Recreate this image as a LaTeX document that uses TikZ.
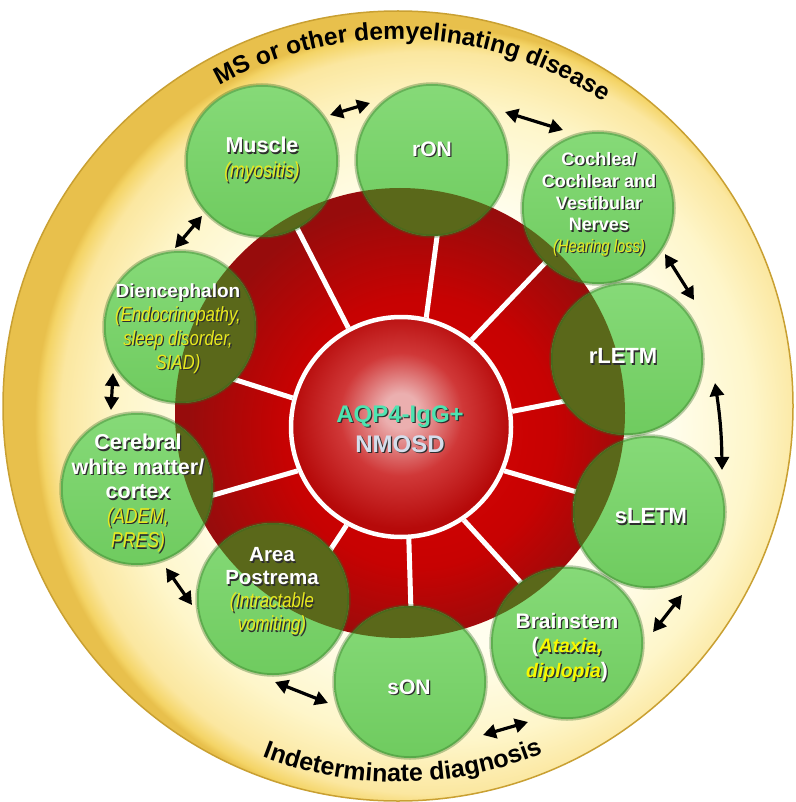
\documentclass[tikz,border=0pt]{standalone}
\usepackage{fontspec}
\setmainfont{Liberation Sans}
\newfontfamily\narrowit{Liberation Sans}[FakeStretch=0.82]
\usetikzlibrary{arrows.meta,decorations.text}

\definecolor{yc1}{HTML}{FFFEEE}
\definecolor{yc2}{HTML}{FEF6CA}
\definecolor{yc3}{HTML}{FBE7A0}
\definecolor{yc4}{HTML}{F4D466}
\definecolor{yc5}{HTML}{E8C04C}
\definecolor{rimc}{HTML}{C9A032}
\definecolor{rc1}{HTML}{D80404}
\definecolor{rc2}{HTML}{C70202}
\definecolor{rc3}{HTML}{970C0C}
\definecolor{ic1}{HTML}{EBAFAF}
\definecolor{ic2}{HTML}{D03838}
\definecolor{ic3}{HTML}{B60A0A}
\definecolor{gtop}{HTML}{86DA78}
\definecolor{gbot}{HTML}{6FCB5F}
\definecolor{gring}{HTML}{2F6B20}
\definecolor{olivec}{HTML}{5A681A}
\definecolor{shadowc}{HTML}{2E2E2E}
\definecolor{yit}{HTML}{E8E820}
\definecolor{ybr}{HTML}{F8F800}
\definecolor{aqua}{HTML}{4DE3B0}
\definecolor{nmc}{HTML}{D5DDEB}

\pgfdeclareradialshading{ybg}{\pgfpoint{4bp}{-2bp}}{color(0bp)=(yc1); color(14bp)=(yc1); color(20bp)=(yc2); color(23.5bp)=(yc3); color(24.6bp)=(yc4); color(25bp)=(yc5); color(50bp)=(yc5)}
\pgfdeclareradialshading{redball}{\pgfpoint{3bp}{-3bp}}{color(0bp)=(rc1); color(15bp)=(rc2); color(25bp)=(rc3); color(50bp)=(rc3)}
\pgfdeclareradialshading{innerball}{\pgfpoint{0bp}{4bp}}{color(0bp)=(ic1); color(4bp)=(ic1); color(14bp)=(ic2); color(25bp)=(ic3); color(50bp)=(ic3)}

\newcommand\shtxt[2]{\makebox[0pt][l]{\kern1.3pt\raisebox{-1.3pt}{\textcolor{shadowc}{#2}}}\textcolor{#1}{#2}}
\newcommand\yi[1]{{\narrowit\mdseries\itshape #1}}

\begin{document}
\begin{tikzpicture}[x=1pt,y=1pt,
  gcirc/.style={circle, minimum size=152pt, inner sep=0pt, top color=gtop, bottom color=gbot,
    draw=gring, draw opacity=0.35, line width=3.5pt,
    path picture={\fill[olivec] (red.center) circle[radius=225pt];}},
  lbl/.style={align=center, text=white, inner sep=0pt},
  arr/.style={{Triangle[length=13pt,width=14pt]}-{Triangle[length=13pt,width=14pt]}, line width=3.2pt, black},
  spoke/.style={white, line width=5pt},
]
\useasboundingbox (0,0) rectangle (795,-802);
\fill[white] (0,0) rectangle (795,-802);

% outer yellow disk
\node[circle, minimum size=790pt, inner sep=0pt, shade, shading=ybg, draw=rimc, line width=1.5pt] (yel) at (398,-406) {};

% arc texts
\path[decorate, decoration={text along path, text align=center,
  text={|\bfseries\fontsize{24.5}{24.5}\selectfont|MS or other demyelinating disease}}]
  ([shift={(127.5:367)}]yel.center) arc[start angle=127.5, end angle=47.5, radius=367];
\path[decorate, decoration={text along path, text align=center,
  text={|\bfseries\fontsize{25}{25}\selectfont|Indeterminate diagnosis}}]
  ([shift={(235.75:376)}]yel.center) arc[start angle=235.75, end angle=305.75, radius=376];

% red disk
\node[circle, minimum size=450pt, inner sep=0pt, shade, shading=redball] (red) at (400,-413) {};
% inner core
\node[circle, minimum size=220pt, inner sep=0pt, shade, shading=innerball, draw=white, line width=4.5pt] (core) at (401,-427) {};

% spokes
\foreach \ai/\ao in {118.4/119, 77.7/79.9, 51.7/46.6, 8.7/6.3, -23.8/-23.1, -56.9/-54.4, -86.9/-87.7, -119.2/-119.8, -157.5/-157.7, 165.1/167.1}
  \draw[spoke] (core.\ai) -- (red.\ao);

\node[lbl, font=\bfseries\fontsize{24}{30}\selectfont] (core-t) at (400,-430) {\shtxt{aqua}{AQP4-IgG+}\\\shtxt{nmc}{NMOSD}};

% green circles
\node[gcirc] (muscle) at (262,-161) {};
\node[gcirc] (ron) at (432,-160) {};
\node[gcirc] (cochlea) at (598,-208) {};
\node[gcirc] (rletm) at (627,-359) {};
\node[gcirc] (sletm) at (649,-512) {};
\node[gcirc] (brainstem) at (567,-643) {};
\node[gcirc] (son) at (410,-682) {};
\node[gcirc] (area) at (273,-599) {};
\node[gcirc] (cerebral) at (137,-489) {};
\node[gcirc] (dien) at (180,-327) {};

% texts in circles
\node[lbl, font=\bfseries\fontsize{21.5}{25}\selectfont] (muscle-t) at (262,-160.5)
  {\shtxt{white}{Muscle}\\\shtxt{yit}{\yi{(myositis)}}};
\node[lbl, font=\bfseries\fontsize{21}{25}\selectfont] (ron-t) at (432,-150) {\shtxt{white}{rON}};
\node[lbl, font=\bfseries\fontsize{18}{21.7}\selectfont] (cochlea-t) at (599,-205)
  {\shtxt{white}{Cochlea/}\\\shtxt{white}{Cochlear and}\\\shtxt{white}{Vestibular}\\\shtxt{white}{Nerves}\\\shtxt{yit}{\yi{(Hearing loss)}}};
\node[lbl, font=\bfseries\fontsize{22}{25}\selectfont] (rletm-t) at (623,-357) {\shtxt{white}{rLETM}};
\node[lbl, font=\bfseries\fontsize{22}{25}\selectfont] (sletm-t) at (651,-517) {\shtxt{white}{sLETM}};
\node[lbl, font=\bfseries\fontsize{21}{24.5}\selectfont] (brainstem-t) at (567,-648)
  {\shtxt{white}{Brainstem}\\\shtxt{white}{(}\shtxt{ybr}{\fontsize{19.5}{24.5}\selectfont\itshape Ataxia,}\\\shtxt{ybr}{\fontsize{19.5}{24.5}\selectfont\itshape diplopia}\shtxt{white}{)}};
\node[lbl, font=\bfseries\fontsize{21}{25}\selectfont] (son-t) at (409,-688) {\shtxt{white}{sON}};
\node[lbl, font=\bfseries\fontsize{20.5}{23}\selectfont] (area-t) at (272,-592)
  {\shtxt{white}{Area}\\\shtxt{white}{Postrema}\\\shtxt{yit}{\yi{(Intractable}}\\\shtxt{yit}{\yi{vomiting)}}};
\node[lbl, font=\bfseries\fontsize{21.5}{24.5}\selectfont] (cerebral-t) at (138,-494)
  {\shtxt{white}{Cerebral}\\\shtxt{white}{white matter/}\\\shtxt{white}{cortex}\\\shtxt{yit}{\yi{(ADEM,}}\\\shtxt{yit}{\yi{PRES)}}};
\node[lbl, font=\bfseries\fontsize{19}{24}\selectfont] (dien-t) at (178,-329)
  {\shtxt{white}{Diencephalon}\\\shtxt{yit}{\yi{\fontsize{20.5}{24}\selectfont(Endocrinopathy,}}\\\shtxt{yit}{\yi{\fontsize{20.5}{24}\selectfont sleep disorder,}}\\\shtxt{yit}{\yi{\fontsize{20.5}{24}\selectfont SIAD)}}};

% arrows
\coordinate (a1s) at (330,-115); \coordinate (a1e) at (370,-103);
\coordinate (a2s) at (505,-112); \coordinate (a2e) at (563,-130);
\coordinate (a3s) at (665,-254); \coordinate (a3e) at (694,-300);
\coordinate (a4s) at (715,-383); \coordinate (a4e) at (722,-470);
\coordinate (a5s) at (682,-595); \coordinate (a5e) at (653,-632);
\coordinate (a6s) at (528,-722); \coordinate (a6e) at (483,-735);
\coordinate (a7s) at (275,-682); \coordinate (a7e) at (328,-703);
\coordinate (a8s) at (166,-568); \coordinate (a8e) at (192,-605);
\coordinate (a9s) at (113,-373); \coordinate (a9e) at (111,-410);
\coordinate (a10s) at (175,-248); \coordinate (a10e) at (202,-216);
\draw[arr] (a1s) -- (a1e);
\draw[arr] (a2s) -- (a2e);
\draw[arr] (a3s) -- (a3e);
\draw[arr] (a4s) to[bend left=4] (a4e);
\draw[arr] (a5s) -- (a5e);
\draw[arr] (a6s) -- (a6e);
\draw[arr] (a7s) -- (a7e);
\draw[arr] (a8s) -- (a8e);
\draw[arr] (a9s) -- (a9e);
\draw[arr] (a10s) -- (a10e);
\end{tikzpicture}
\end{document}
